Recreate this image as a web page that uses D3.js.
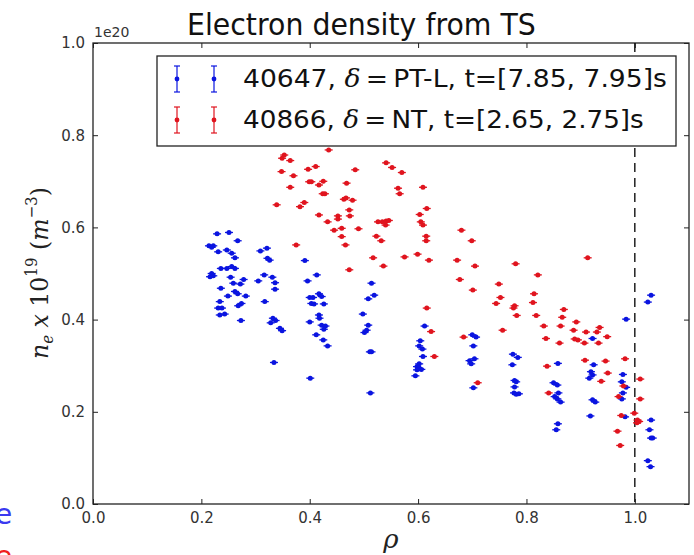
<!DOCTYPE html>
<html>
<head>
<meta charset="utf-8">
<script src="https://cdn.jsdelivr.net/npm/d3@7"></script>
<style>
  body { margin: 0; background: #fff; }
  svg { display: block; }
</style>
</head>
<body>
<div id="chart"></div>
<script>
// ne in units of 1e20 m^-3
var blueRho = [0.229,0.251,0.267,0.214,0.222,0.219,0.231,0.247,0.256,0.262,0.309,0.321,0.322,0.326,0.391,
  0.236,0.247,0.256,0.262,0.219,0.222,0.216,0.254,0.278,0.259,0.272,0.305,0.316,0.331,0.336,0.413,0.396,
  0.236,0.249,0.262,0.267,0.282,0.336,0.317,0.400,0.406,0.417,0.422,0.403,0.408,0.426,0.234,0.274,0.268,
  0.238,0.231,0.234,0.243,0.273,0.332,0.328,0.337,0.345,0.349,0.400,0.417,0.418,0.422,0.429,0.426,0.412,
  0.425,0.433,0.334,0.401,0.498,0.514,0.519,0.508,0.508,0.505,0.501,0.514,0.511,0.512,
  0.612,0.604,0.602,0.608,0.609,0.602,0.598,0.603,0.606,0.598,0.595,
  0.700,0.707,0.702,0.704,0.695,0.698,0.702,
  0.775,0.784,0.774,0.778,0.781,0.778,0.777,0.781,0.786,
  0.858,0.850,0.857,0.859,0.852,0.857,0.863,0.858,0.855,
  0.922,0.924,0.919,0.922,0.916,0.922,0.927,0.918,
  0.984,0.978,0.976,0.984,0.978,0.976,0.982,
  1.030,1.024,1.030,1.027,1.030,1.033,1.024,1.029];
var blueNe = [0.586,0.589,0.571,0.560,0.560,0.557,0.547,0.551,0.544,0.534,0.549,0.555,0.533,0.529,0.528,
  0.511,0.511,0.515,0.511,0.500,0.495,0.493,0.492,0.487,0.479,0.477,0.484,0.497,0.492,0.480,0.497,0.484,
  0.468,0.451,0.461,0.456,0.451,0.466,0.439,0.448,0.448,0.456,0.450,0.435,0.434,0.434,0.439,0.435,0.430,
  0.425,0.425,0.410,0.412,0.398,0.403,0.393,0.398,0.381,0.376,0.395,0.410,0.403,0.388,0.386,0.379,0.367,
  0.356,0.343,0.307,0.273,0.412,0.479,0.453,0.445,0.388,0.377,0.372,0.330,0.330,0.241,
  0.386,0.354,0.343,0.336,0.320,0.304,0.298,0.294,0.292,0.291,0.278,
  0.367,0.362,0.343,0.315,0.311,0.304,0.252,
  0.325,0.318,0.302,0.268,0.265,0.254,0.241,0.238,0.239,
  0.305,0.263,0.258,0.241,0.233,0.228,0.221,0.174,0.161,
  0.359,0.302,0.287,0.280,0.273,0.226,0.221,0.191,
  0.401,0.281,0.265,0.253,0.241,0.228,0.189,
  0.453,0.438,0.182,0.161,0.143,0.143,0.094,0.081];

var redRho = [0.353,0.349,0.364,0.435,0.348,0.370,0.397,0.411,0.484,0.399,0.403,0.417,0.425,0.468,0.364,
  0.424,0.428,0.463,0.467,0.479,0.339,0.390,0.382,0.473,0.417,0.452,0.452,0.474,0.433,0.445,0.459,0.490,
  0.459,0.375,0.466,0.473,
  0.541,0.552,0.570,0.563,0.566,0.609,0.616,0.603,0.526,0.534,0.541,0.546,0.540,0.605,0.609,0.523,0.532,
  0.615,0.615,0.680,0.699,0.517,0.575,0.599,0.620,0.536,0.672,0.705,0.780,0.677,0.701,0.749,0.752,0.744,
  0.778,0.776,0.616,0.624,0.630,0.782,0.756,0.684,0.710,
  0.913,0.821,0.814,0.812,0.869,0.818,0.866,0.892,0.832,0.863,0.887,0.910,0.935,0.930,0.836,0.889,0.895,
  0.907,0.949,0.933,0.861,0.908,0.946,0.982,0.838,0.950,0.938,1.010,0.979,0.841,0.970,1.010,0.975,0.999,
  1.005,1.008,1.004,0.968,0.973];
var redNe = [0.757,0.750,0.745,0.768,0.721,0.712,0.726,0.732,0.725,0.699,0.699,0.692,0.700,0.696,0.687,
  0.673,0.673,0.661,0.664,0.659,0.649,0.654,0.645,0.638,0.627,0.625,0.618,0.625,0.612,0.594,0.598,0.597,
  0.580,0.562,0.562,0.508,
  0.740,0.730,0.719,0.685,0.673,0.687,0.641,0.628,0.612,0.612,0.614,0.615,0.605,0.612,0.605,0.581,0.571,
  0.581,0.571,0.594,0.571,0.534,0.536,0.542,0.529,0.516,0.529,0.516,0.521,0.487,0.464,0.477,0.448,0.435,
  0.430,0.425,0.425,0.374,0.320,0.409,0.377,0.362,0.263,
  0.534,0.497,0.456,0.437,0.422,0.409,0.405,0.395,0.386,0.386,0.377,0.373,0.383,0.373,0.359,0.358,0.356,
  0.349,0.363,0.349,0.349,0.312,0.310,0.315,0.299,0.284,0.266,0.271,0.256,0.241,0.233,0.228,0.192,0.197,
  0.182,0.179,0.176,0.158,0.127];

var xTicks = [0.0, 0.2, 0.4, 0.6, 0.8, 1.0];
var yTicks = [0.0, 0.2, 0.4, 0.6, 0.8, 1.0];
var legendLabels = ["40647", "40866"];
var legendShape = ["PT-L", "NT"];
var legendTimes = ["t=[7.85, 7.95]s", "t=[2.65, 2.75]s"];
var seriesColours = ["#0a14e0", "#e0141e"];

var svgWidth = 694, svgHeight = 555;
var margin = {left: 93, right: 5, top: 43, bottom: 51};

var svg = d3.select("#chart").append("svg")
  .attr("width", svgWidth)
  .attr("height", svgHeight);

var x = d3.scaleLinear().domain([0, 1.1]).range([margin.left, svgWidth - margin.right]);
var y = d3.scaleLinear().domain([0, 1.0]).range([svgHeight - margin.bottom, margin.top]);

var sans = "'DejaVu Sans', sans-serif";
var serif = "'DejaVu Serif', 'Liberation Serif', serif";

// squeeze/stretch a text horizontally so it spans the width seen in the picture
function fitWidth(sel, left, width) {
  var b = sel.node().getBBox();
  var k = width / b.width;
  sel.attr("transform", "translate(" + left + ",0) scale(" + k + ",1) translate(" + (-b.x) + ",0)");
}

// ticks (matplotlib classic: inward, on all four sides)
var grp = svg.append("g");
grp.append("g").attr("transform", "translate(0," + y(0) + ")")
  .call(d3.axisBottom(x).tickValues(xTicks).tickSizeInner(-5).tickSizeOuter(0).tickPadding(8).tickFormat(d3.format(".1f")));
grp.append("g").attr("transform", "translate(0," + y(1) + ")")
  .call(d3.axisTop(x).tickValues(xTicks).tickSizeInner(-5).tickSizeOuter(0).tickFormat(""));
grp.append("g").attr("transform", "translate(" + x(0) + ",0)")
  .call(d3.axisLeft(y).tickValues(yTicks).tickSizeInner(-5).tickSizeOuter(0).tickPadding(8).tickFormat(d3.format(".1f")));
grp.append("g").attr("transform", "translate(" + x(1.1) + ",0)")
  .call(d3.axisRight(y).tickValues(yTicks).tickSizeInner(-5).tickSizeOuter(0).tickFormat(""));
grp.selectAll(".domain").remove();
grp.selectAll(".tick line").attr("stroke", "#222");
grp.selectAll(".tick text").attr("font-family", sans).attr("font-size", 15).attr("fill", "#333");

// frame
svg.append("rect")
  .attr("x", x(0)).attr("y", y(1))
  .attr("width", x(1.1) - x(0)).attr("height", y(0) - y(1))
  .attr("fill", "none").attr("stroke", "#222").attr("stroke-width", 1.3);

// separatrix
svg.append("line")
  .attr("x1", x(1.0)).attr("x2", x(1.0)).attr("y1", y(1)).attr("y2", y(0))
  .attr("stroke", "#111").attr("stroke-width", 1.4).attr("stroke-dasharray", "9,6");

function drawPoints(rho, ne, colour) {
  var pts = rho.map(function (r, i) { return {r: r, n: ne[i]}; });
  var g = svg.append("g");
  g.selectAll("line").data(pts).enter().append("line")
    .attr("x1", function (d) { return x(d.r) - 4; })
    .attr("x2", function (d) { return x(d.r) + 4; })
    .attr("y1", function (d) { return y(d.n); })
    .attr("y2", function (d) { return y(d.n); })
    .attr("stroke", colour).attr("stroke-width", 1.3);
  g.selectAll("circle").data(pts).enter().append("circle")
    .attr("cx", function (d) { return x(d.r); })
    .attr("cy", function (d) { return y(d.n); })
    .attr("r", 2.5)
    .attr("fill", colour);
}
drawPoints(blueRho, blueNe, seriesColours[0]);
drawPoints(redRho, redNe, seriesColours[1]);

// legend
var legend = svg.append("g");
legend.append("rect")
  .attr("x", 157).attr("y", 56).attr("width", 519).attr("height", 90)
  .attr("fill", "#fff").attr("stroke", "#222").attr("stroke-width", 1.3);
var legendWidths = [424, 401];
legendLabels.forEach(function (lab, i) {
  var cy = 79 + i * 41;
  [177, 214].forEach(function (cx) {
    legend.append("line").attr("x1", cx).attr("x2", cx).attr("y1", cy - 13).attr("y2", cy + 13)
      .attr("stroke", seriesColours[i]).attr("stroke-width", 1.2);
    legend.append("line").attr("x1", cx - 3).attr("x2", cx + 3).attr("y1", cy - 13).attr("y2", cy - 13)
      .attr("stroke", seriesColours[i]).attr("stroke-width", 1.2);
    legend.append("line").attr("x1", cx - 3).attr("x2", cx + 3).attr("y1", cy + 13).attr("y2", cy + 13)
      .attr("stroke", seriesColours[i]).attr("stroke-width", 1.2);
    legend.append("circle").attr("cx", cx).attr("cy", cy).attr("r", 2.4).attr("fill", seriesColours[i]);
  });
  var t = legend.append("text").attr("x", 0).attr("y", cy + 8.5)
    .attr("font-family", sans).attr("font-size", 24).attr("fill", "#111");
  t.append("tspan").text(lab + ", ");
  t.append("tspan").attr("font-family", serif).attr("font-style", "italic").text("δ");
  t.append("tspan").text("\u2009=\u2009" + legendShape[i] + ", " + legendTimes[i]);
  fitWidth(t, 243, legendWidths[i]);
});

// title
var title = svg.append("text").attr("x", 0).attr("y", 35)
  .attr("font-family", sans).attr("font-size", 30).attr("fill", "#111")
  .text("Electron density from TS");
fitWidth(title, 187, 349);

// offset text
svg.append("text").attr("x", x(0) + 1).attr("y", y(1) - 6)
  .attr("font-family", sans).attr("font-size", 14).attr("fill", "#333").text("1e20");

// axis labels
var yl = svg.append("text")
  .attr("font-family", serif).attr("font-size", 25).attr("fill", "#222");
yl.append("tspan").attr("font-style", "italic").text("n");
yl.append("tspan").attr("font-style", "italic").attr("font-size", 16).attr("dy", 5).text("e");
yl.append("tspan").attr("font-style", "italic").attr("dy", -5).text(" x ");
yl.append("tspan").text("10");
yl.append("tspan").attr("font-size", 16).attr("dy", -11).text("19");
yl.append("tspan").attr("dy", 11).text(" (");
yl.append("tspan").attr("font-style", "italic").text("m");
yl.append("tspan").attr("font-size", 16).attr("dy", -11).text("−3");
yl.append("tspan").attr("dy", 11).text(")");
var ylb = yl.node().getBBox();
var ylk = 172 / ylb.width;
// rotated so its extent runs from y=359 (bottom) up to y=187
yl.attr("transform", "translate(48," + (359 + ylb.x * ylk) + ") rotate(-90) scale(" + ylk + ",1)");

svg.append("text").attr("x", (x(0) + x(1.1)) / 2).attr("y", 548)
  .attr("text-anchor", "middle").attr("font-family", serif).attr("font-style", "italic")
  .attr("font-size", 26).attr("fill", "#222").text("ρ");

// cut-off slide text at bottom left
svg.append("text").attr("x", -5).attr("y", 524)
  .attr("font-family", sans).attr("font-size", 28).attr("fill", "#3a3af0").text("e");
svg.append("text").attr("x", -5).attr("y", 566)
  .attr("font-family", sans).attr("font-size", 28).attr("fill", "#f02020").text("e");
</script>
</body>
</html>
